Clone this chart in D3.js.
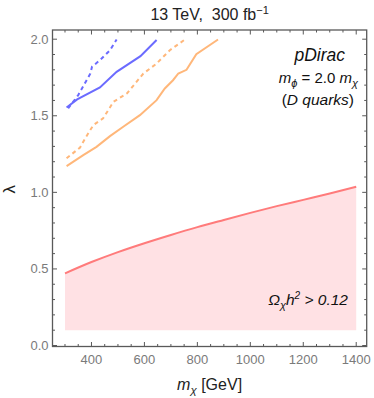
<!DOCTYPE html>
<html>
<head>
<meta charset="utf-8">
<script src="https://cdn.jsdelivr.net/npm/d3@7"></script>
<style>
  body { margin: 0; background: #fff; }
  svg { display: block; font-family: "Liberation Sans", Arial, sans-serif; }
</style>
</head>
<body>
<div class="chart"></div>
<script>
// relic density curve (lower edge of excluded band is fixed at 0.1)
const relicMass = [300, 400, 500, 600, 700, 800, 900, 1000, 1100, 1200, 1300, 1400];
const relicLambda = [0.471, 0.545, 0.61, 0.668, 0.722, 0.773, 0.82, 0.866, 0.91, 0.951, 0.992, 1.036];
const bandFloor = 0.1;

// blue, solid / dashed
const blueSolidMass = [306, 346, 432, 495, 585, 646];
const blueSolidLambda = [1.554, 1.607, 1.685, 1.787, 1.889, 1.995];
const blueDashMass = [312, 350, 396, 402, 432, 470, 495];
const blueDashLambda = [1.548, 1.635, 1.776, 1.82, 1.863, 1.928, 1.998];

// orange, solid / dashed
const orangeSolidMass = [306, 369, 419, 470, 520, 583, 646, 677, 708, 728, 759, 796, 878];
const orangeSolidLambda = [1.171, 1.243, 1.297, 1.367, 1.428, 1.504, 1.602, 1.678, 1.732, 1.776, 1.80, 1.902, 1.998];
const orangeDashMass = [306, 357, 376, 407, 444, 483, 534, 596, 646, 696, 753];
const orangeDashLambda = [1.222, 1.293, 1.352, 1.439, 1.483, 1.591, 1.646, 1.776, 1.841, 1.928, 1.998];

const xTicks = [400, 600, 800, 1000, 1200, 1400];
const yTicks = [0.0, 0.5, 1.0, 1.5, 2.0];

const width = 374, height = 398;
const frame = {left: 52.5, right: 366.7, top: 30, bottom: 346.5};

const x = d3.scaleLinear().domain([252.8, 1439.6]).range([frame.left, frame.right]);
const y = d3.scaleLinear().domain([-0.0065, 2.06]).range([frame.bottom, frame.top]);

const svg = d3.select(".chart").append("svg")
    .attr("width", width)
    .attr("height", height);

const zip = (a, b) => a.map((v, i) => [v, b[i]]);

// shaded band
const area = d3.area()
    .x(d => x(d[0]))
    .y0(y(bandFloor))
    .y1(d => y(d[1]))
    .curve(d3.curveMonotoneX);
svg.append("path")
    .datum(zip(relicMass, relicLambda))
    .attr("d", area)
    .attr("fill", "#ffe1e4");

const line = d3.line().x(d => x(d[0])).y(d => y(d[1]));

const curves = [
    {m: relicMass, l: relicLambda, color: "#ff7b7b", dash: null, curve: d3.curveMonotoneX},
    {m: orangeSolidMass, l: orangeSolidLambda, color: "#ffb77a", dash: null},
    {m: orangeDashMass, l: orangeDashLambda, color: "#ffb77a", dash: "4,3.5"},
    {m: blueSolidMass, l: blueSolidLambda, color: "#6b6bff", dash: null},
    {m: blueDashMass, l: blueDashLambda, color: "#6b6bff", dash: "4,3.5"}
];

curves.forEach(c => {
    svg.append("path")
        .datum(zip(c.m, c.l))
        .attr("d", line.curve(c.curve || d3.curveLinear))
        .attr("fill", "none")
        .attr("stroke", c.color)
        .attr("stroke-width", 2)
        .attr("stroke-dasharray", c.dash);
});

// frame + ticks (Mathematica style, ticks inside on all sides)
const axisColor = "#595959";
const labelColor = "#7a7a7a";

const xMinor = d3.range(300, 1440, 50).filter(v => v % 200 !== 0);
const yMinor = d3.range(0, 2.06, 0.1).filter(v => Math.abs(v * 2 - Math.round(v * 2)) > 1e-6);

const g = svg.append("g").attr("stroke", axisColor);

xTicks.forEach(v => {
    g.append("line").attr("x1", x(v)).attr("x2", x(v)).attr("y1", frame.bottom).attr("y2", frame.bottom - 4.5);
    g.append("line").attr("x1", x(v)).attr("x2", x(v)).attr("y1", frame.top).attr("y2", frame.top + 4.5);
});
xMinor.forEach(v => {
    g.append("line").attr("x1", x(v)).attr("x2", x(v)).attr("y1", frame.bottom).attr("y2", frame.bottom - 2.5);
    g.append("line").attr("x1", x(v)).attr("x2", x(v)).attr("y1", frame.top).attr("y2", frame.top + 2.5);
});
yTicks.forEach(v => {
    g.append("line").attr("y1", y(v)).attr("y2", y(v)).attr("x1", frame.left).attr("x2", frame.left + 4.5);
    g.append("line").attr("y1", y(v)).attr("y2", y(v)).attr("x1", frame.right).attr("x2", frame.right - 4.5);
});
yMinor.forEach(v => {
    g.append("line").attr("y1", y(v)).attr("y2", y(v)).attr("x1", frame.left).attr("x2", frame.left + 2.5);
    g.append("line").attr("y1", y(v)).attr("y2", y(v)).attr("x1", frame.right).attr("x2", frame.right - 2.5);
});

svg.append("rect")
    .attr("x", frame.left).attr("y", frame.top)
    .attr("width", frame.right - frame.left).attr("height", frame.bottom - frame.top)
    .attr("fill", "none")
    .attr("stroke", axisColor)
    .attr("stroke-width", 1.3);

// tick labels
svg.append("g").selectAll("text")
    .data(xTicks)
    .join("text")
    .attr("x", d => x(d))
    .attr("y", frame.bottom + 17)
    .attr("text-anchor", "middle")
    .attr("font-size", 13)
    .attr("fill", labelColor)
    .text(d => d);

svg.append("g").selectAll("text")
    .data(yTicks)
    .join("text")
    .attr("x", frame.left - 4)
    .attr("y", d => y(d) + 4.5)
    .attr("text-anchor", "end")
    .attr("font-size", 13)
    .attr("fill", labelColor)
    .text(d => d.toFixed(1));

// title
const title = svg.append("text")
    .attr("x", (frame.left + frame.right) / 2)
    .attr("y", 20)
    .attr("text-anchor", "middle")
    .attr("font-size", 16)
    .attr("fill", "#222");
title.append("tspan").text("13 TeV,\u00a0\u00a0300 fb");
title.append("tspan").attr("dy", -6).attr("font-size", 11).text("\u22121");

// x label
const xl = svg.append("text")
    .attr("x", (frame.left + frame.right) / 2)
    .attr("y", 390)
    .attr("text-anchor", "middle")
    .attr("font-size", 16)
    .attr("fill", "#222");
xl.append("tspan").attr("font-style", "italic").text("m");
xl.append("tspan").attr("dy", 4).attr("font-size", 11.5).attr("font-style", "italic").text("\u03c7");
xl.append("tspan").attr("dy", -4).text(" [GeV]");

// y label
svg.append("text")
    .attr("transform", `translate(15,${y(1.02)}) rotate(-90)`)
    .attr("text-anchor", "middle")
    .attr("font-size", 17)
    .attr("fill", "#222")
    .text("\u03bb");

// annotation block
const ann = svg.append("g").attr("fill", "#111").attr("text-anchor", "end");
ann.append("text")
    .attr("x", 345).attr("y", 61)
    .attr("font-size", 17.5).attr("font-style", "italic")
    .text("pDirac");
const l2 = ann.append("text").attr("x", 358).attr("y", 83).attr("font-size", 15);
l2.append("tspan").attr("font-style", "italic").text("m");
l2.append("tspan").attr("dy", 3.5).attr("font-size", 11).attr("font-style", "italic").text("\u03d5");
l2.append("tspan").attr("dy", -3.5).text(" = 2.0 ");
l2.append("tspan").attr("font-style", "italic").text("m");
l2.append("tspan").attr("dy", 3.5).attr("font-size", 11).attr("font-style", "italic").text("\u03c7");
const l3 = ann.append("text").attr("x", 354).attr("y", 105).attr("font-size", 15.5);
l3.append("tspan").text("(");
l3.append("tspan").attr("font-style", "italic").text("D quarks");
l3.append("tspan").text(")");

const om = svg.append("text")
    .attr("x", 348).attr("y", 305)
    .attr("text-anchor", "end")
    .attr("font-size", 15.5)
    .attr("font-style", "italic")
    .attr("fill", "#111");
om.append("tspan").text("\u03a9");
om.append("tspan").attr("dy", 3.5).attr("font-size", 11).text("\u03c7");
om.append("tspan").attr("dy", -3.5).text("h");
om.append("tspan").attr("dy", -6).attr("font-size", 10).text("2");
om.append("tspan").attr("dy", 6).text(" > 0.12");
</script>
</body>
</html>
